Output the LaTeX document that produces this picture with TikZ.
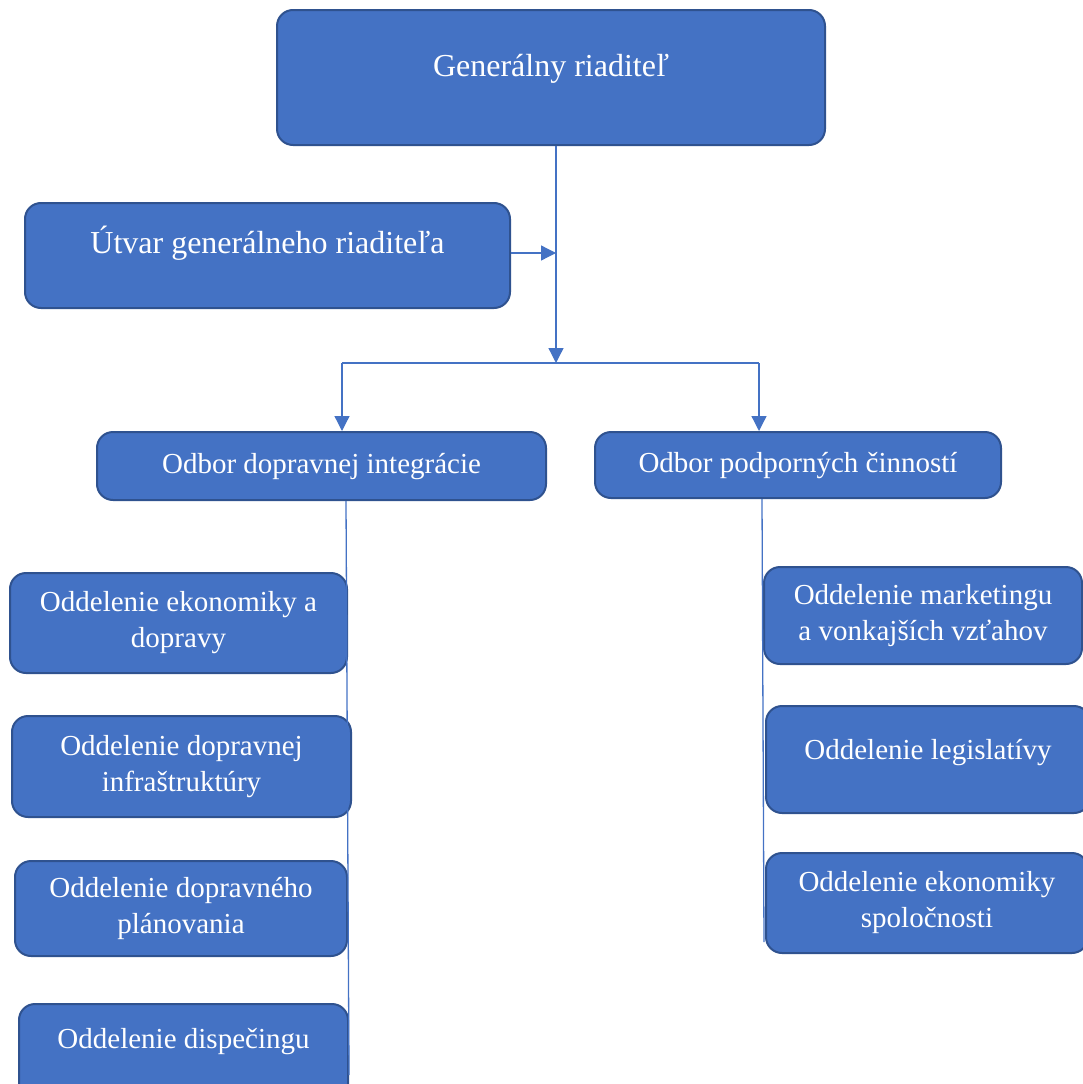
\documentclass[tikz,border=0pt]{standalone}
\usepackage{fontspec}
\setmainfont{Liberation Serif}
\usetikzlibrary{arrows.meta}
\definecolor{boxblue}{HTML}{4472C4}
\definecolor{boxedge}{HTML}{2F528F}
\begin{document}
\begin{tikzpicture}[x=1pt,y=-1pt,
 box/.style={draw=boxedge,line width=2pt,fill=boxblue,rounded corners=16pt,text=white,
   font=\fontsize{29}{36}\selectfont,align=center,inner sep=0pt},
 bigtext/.style={font=\fontsize{32}{38}\selectfont},
 conn/.style={draw=boxblue,line width=1.3pt},
 tip/.style={-{Triangle[length=15pt,width=15pt]}}]
\useasboundingbox (0,0) rectangle (1083,1084);
\clip (0,0) rectangle (1083,1084);

\node[box,bigtext,minimum width=548pt,minimum height=135pt,text height=22pt,text depth=25pt] (gr) at (551,77.5) {Generálny riaditeľ};
\node[box,bigtext,minimum width=485pt,minimum height=105pt,text height=22pt,text depth=27pt] (ut) at (267.5,255.5) {Útvar generálneho riaditeľa};
\node[box,minimum width=449pt,minimum height=68pt,text height=20pt,text depth=6pt] (odi) at (321.5,466) {Odbor dopravnej integrácie};
\node[box,minimum width=406pt,minimum height=66pt,text height=20pt,text depth=6pt] (opc) at (798,465) {Odbor podporných činností};

\node[box,minimum width=337pt,minimum height=100pt] (l1) at (178.5,623) {Oddelenie ekonomiky a\\dopravy};
\node[box,minimum width=339pt,minimum height=101pt] (l2) at (181.5,766.5) {Oddelenie dopravnej\\infraštruktúry};
\node[box,minimum width=332pt,minimum height=95pt] (l3) at (181,908.5) {Oddelenie dopravného\\plánovania};
\node[box,minimum width=329pt,minimum height=100pt,text height=20pt,text depth=32pt] (l4) at (183.5,1054) {Oddelenie dispečingu};

\node[box,minimum width=318pt,minimum height=97pt] (r1) at (923,615.5) {Oddelenie marketingu\\a vonkajších vzťahov};
\node[box,minimum width=324pt,minimum height=107pt,text height=20pt,text depth=20pt] (r2) at (928,759.5) {Oddelenie legislatívy};
\node[box,minimum width=322pt,minimum height=100pt] (r3) at (927,903) {Oddelenie ekonomiky\\spoločnosti};

\coordinate (j1) at (556,253);
\coordinate (j2) at (556,363);
\coordinate (hl) at (342,363);
\coordinate (hr) at (759,363);
\coordinate (lb) at (349,1075);
\coordinate (rb) at (764,942);

\draw[conn,tip] (gr.south -| j1) -- (j2);
\draw[conn,tip] (ut.east |- j1) -- (j1);
\draw[conn] (hl) -- (hr);
\draw[conn,tip] (hl) -- (hl |- odi.north);
\draw[conn,tip] (hr) -- (hr |- opc.north);
\draw[conn] ([xshift=24.5pt]odi.south) -- (lb);
\draw[conn] ([xshift=-36pt]opc.south) -- (rb);
\end{tikzpicture}
\end{document}
